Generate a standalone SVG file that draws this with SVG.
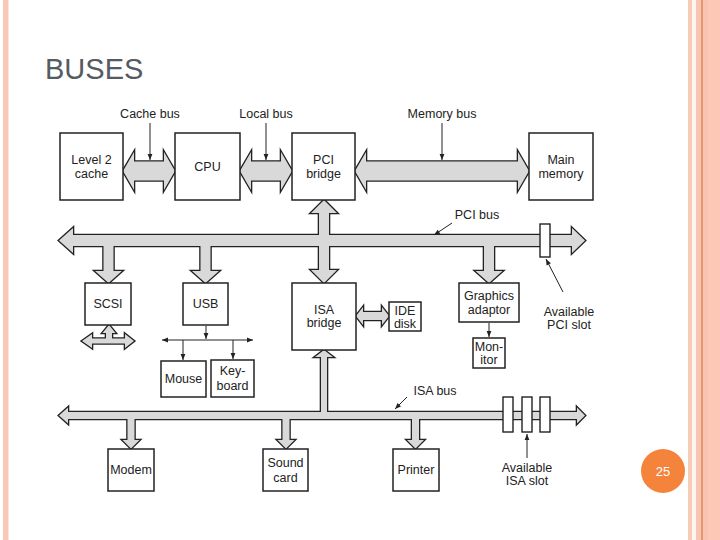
<svg xmlns="http://www.w3.org/2000/svg" xmlns:xlink="http://www.w3.org/1999/xlink" width="720" height="540" viewBox="0 0 720 540">
<style>
.box{fill:#fff;stroke:#222;stroke-width:1.5}
.lbl{font-family:"Liberation Sans",Arial,sans-serif;font-size:12.5px;fill:#222;text-anchor:middle}
.bo{fill:#222;stroke:#222;stroke-width:2.6;stroke-linejoin:miter}
.bf{fill:#d9d9d9;stroke:none}
.ptr{stroke:#222;stroke-width:1;fill:none}
.slot{fill:#fff;stroke:#222;stroke-width:1.4}
</style>
<defs>
<marker id="ah" viewBox="0 0 10 10" refX="10" refY="5" markerWidth="7" markerHeight="6" orient="auto-start-reverse" markerUnits="userSpaceOnUse"><path d="M0,1 L10,5 L0,9 Z" fill="#222"/></marker>
<path id="cacheBus" d="M123,171 L134,152 L134,161.5 L164,161.5 L164,152 L175,171 L164,190 L164,180.5 L134,180.5 L134,190 Z"/>
<path id="localBus" d="M240,171 L251,152 L251,161.5 L281,161.5 L281,152 L292,171 L281,190 L281,180.5 L251,180.5 L251,190 Z"/>
<path id="memBus" d="M355,171 L366,152 L366,161.5 L518,161.5 L518,152 L529,171 L518,190 L518,180.5 L366,180.5 L366,190 Z"/>
<path id="pciBus" d="M59,240.5 L73,228 L73,235 L572,235 L572,228 L585,240.5 L572,253 L572,246 L73,246 L73,253 Z"/>
<path id="pciScsi" d="M103.5,240 L113.5,240 L113.5,271 L122,271 L108.5,283 L95,271 L103.5,271 Z"/>
<path id="pciUsb" d="M200.5,240 L210.5,240 L210.5,271 L219,271 L205.5,283 L192,271 L200.5,271 Z"/>
<path id="pciGfx" d="M484,240 L494,240 L494,271 L502.5,271 L489,283 L475.5,271 L484,271 Z"/>
<path id="pciIsa" d="M324,200 L337,213 L329,213 L329,270 L337,270 L324,283 L311,270 L319,270 L319,213 L311,213 Z"/>
<path id="scsiUp" d="M109,325 L115.5,333 L112,333 L112,340 L106,340 L106,333 L102.5,333 Z"/>
<path id="scsiH" d="M82,341 L92,334 L92,338.5 L125,338.5 L125,334 L134,341 L125,348 L125,343.5 L92,343.5 L92,348 Z"/>
<path id="ideBus" d="M356,316 L363,307 L363,312 L382,312 L382,307 L389,316 L382,325 L382,320 L363,320 L363,325 Z"/>
<path id="isaBus" d="M59,415.5 L68,407.5 L68,412 L577,412 L577,407.5 L585,415.5 L577,423.5 L577,419 L68,419 L68,423.5 Z"/>
<path id="isaUp" d="M324,350 L333,357 L327,357 L327,416 L321,416 L321,357 L315,357 Z"/>
<path id="isaModem" d="M127.5,415 L134.5,415 L134.5,440 L139.5,440 L131,448.5 L122.5,440 L127.5,440 Z"/>
<path id="isaSound" d="M282.5,415 L289.5,415 L289.5,440 L294.5,440 L286,448.5 L277.5,440 L282.5,440 Z"/>
<path id="isaPrinter" d="M412,415 L419,415 L419,440 L424,440 L415.5,448.5 L407,440 L412,440 Z"/>
</defs>

<rect x="0" y="0" width="720" height="540" fill="#fff"/>
<rect x="3" y="0" width="5.5" height="540" fill="#f8c9b7"/>
<rect x="688" y="0" width="4" height="540" fill="#f9cbb9"/>
<rect x="692" y="0" width="4" height="540" fill="#fdf6ef"/>
<rect x="696" y="0" width="5" height="540" fill="#f9c5b3"/>
<rect x="701" y="0" width="2" height="540" fill="#e8956e"/>
<rect x="703" y="0" width="5" height="540" fill="#f9c5b3"/>
<rect x="708" y="0" width="12" height="540" fill="#fdc9b5"/>

<text x="45" y="79" font-family="'Liberation Sans',Arial,sans-serif" font-size="29" fill="#555b61">BUSES</text>

<g id="connectors">
  <g class="bo">
    <use xlink:href="#cacheBus"/><use xlink:href="#localBus"/><use xlink:href="#memBus"/>
    <use xlink:href="#pciBus"/><use xlink:href="#pciScsi"/><use xlink:href="#pciUsb"/><use xlink:href="#pciGfx"/><use xlink:href="#pciIsa"/>
    <use xlink:href="#scsiUp"/><use xlink:href="#scsiH"/><use xlink:href="#ideBus"/>
    <use xlink:href="#isaBus"/><use xlink:href="#isaUp"/><use xlink:href="#isaModem"/><use xlink:href="#isaSound"/><use xlink:href="#isaPrinter"/>
  </g>
  <g class="bf">
    <use xlink:href="#cacheBus"/><use xlink:href="#localBus"/><use xlink:href="#memBus"/>
    <use xlink:href="#pciBus"/><use xlink:href="#pciScsi"/><use xlink:href="#pciUsb"/><use xlink:href="#pciGfx"/><use xlink:href="#pciIsa"/>
    <use xlink:href="#scsiUp"/><use xlink:href="#scsiH"/><use xlink:href="#ideBus"/>
    <use xlink:href="#isaBus"/><use xlink:href="#isaUp"/><use xlink:href="#isaModem"/><use xlink:href="#isaSound"/><use xlink:href="#isaPrinter"/>
  </g>
  <rect class="slot" x="540" y="224" width="10" height="33"/>
  <rect class="slot" x="503" y="397" width="10" height="35"/>
  <rect class="slot" x="522" y="397" width="10" height="35"/>
  <rect class="slot" x="540" y="397" width="10" height="35"/>
  <line class="ptr" x1="150" y1="123" x2="150" y2="160" marker-end="url(#ah)"/>
  <line class="ptr" x1="266" y1="123" x2="266" y2="160" marker-end="url(#ah)"/>
  <line class="ptr" x1="442" y1="123" x2="442" y2="160" marker-end="url(#ah)"/>
  <line class="ptr" x1="452" y1="223" x2="434" y2="235" marker-end="url(#ah)"/>
  <line class="ptr" x1="563" y1="292" x2="546" y2="259" marker-end="url(#ah)"/>
  <line class="ptr" x1="407" y1="397" x2="395" y2="409" marker-end="url(#ah)"/>
  <line class="ptr" x1="527" y1="458" x2="527" y2="434" marker-end="url(#ah)"/>
  <line class="ptr" x1="206" y1="326" x2="206" y2="339" marker-end="url(#ah)"/>
  <line class="ptr" x1="162" y1="340" x2="253" y2="340" marker-start="url(#ah)" marker-end="url(#ah)"/>
  <line class="ptr" x1="183" y1="340" x2="183" y2="360" stroke="#777" marker-end="url(#ah)"/>
  <line class="ptr" x1="233" y1="340" x2="233" y2="359" marker-end="url(#ah)"/>
  <line class="ptr" x1="489" y1="323" x2="489" y2="337" marker-end="url(#ah)"/>
</g>

<g id="labels">
  <text class="lbl" x="150" y="118">Cache bus</text>
  <text class="lbl" x="266" y="118">Local bus</text>
  <text class="lbl" x="442" y="118">Memory bus</text>
  <text class="lbl" x="477" y="219">PCI bus</text>
  <text class="lbl" x="569" y="316">Available</text>
  <text class="lbl" x="569" y="329">PCI slot</text>
  <text class="lbl" x="435" y="395">ISA bus</text>
  <text class="lbl" x="527" y="472">Available</text>
  <text class="lbl" x="527" y="485">ISA slot</text>
</g>

<g id="level2cache"><rect class="box" x="60" y="133" width="63" height="67"/><text class="lbl" x="91.5" y="164">Level 2</text><text class="lbl" x="91.5" y="178">cache</text></g>
<g id="cpu"><rect class="box" x="175" y="133" width="65" height="67"/><text class="lbl" x="207.5" y="171">CPU</text></g>
<g id="pcibridge"><rect class="box" x="292" y="133" width="63" height="67"/><text class="lbl" x="323.5" y="164">PCI</text><text class="lbl" x="323.5" y="178">bridge</text></g>
<g id="mainmemory"><rect class="box" x="529" y="133" width="64" height="67"/><text class="lbl" x="561" y="164">Main</text><text class="lbl" x="561" y="178">memory</text></g>
<g id="scsi"><rect class="box" x="85" y="283" width="46" height="42"/><text class="lbl" x="108" y="308">SCSI</text></g>
<g id="usb"><rect class="box" x="183" y="283" width="45" height="42"/><text class="lbl" x="205.5" y="308">USB</text></g>
<g id="isabridge"><rect class="box" x="292" y="283" width="64" height="67"/><text class="lbl" x="324" y="314">ISA</text><text class="lbl" x="324" y="327">bridge</text></g>
<g id="idedisk"><rect class="box" x="389" y="302" width="32" height="29"/><text class="lbl" x="405" y="315">IDE</text><text class="lbl" x="405" y="328">disk</text></g>
<g id="graphics"><rect class="box" x="459" y="283" width="60" height="39"/><text class="lbl" x="489" y="300">Graphics</text><text class="lbl" x="489" y="314">adaptor</text></g>
<g id="monitor"><rect class="box" x="473" y="338" width="32" height="30"/><text class="lbl" x="489" y="351">Mon-</text><text class="lbl" x="489" y="364">itor</text></g>
<g id="mouse"><rect class="box" x="161" y="361" width="45" height="36"/><text class="lbl" x="183.5" y="383">Mouse</text></g>
<g id="keyboard"><rect class="box" x="211" y="360" width="43" height="37"/><text class="lbl" x="232.5" y="375">Key-</text><text class="lbl" x="232.5" y="390">board</text></g>
<g id="modem"><rect class="box" x="108" y="449" width="46" height="42"/><text class="lbl" x="131" y="474">Modem</text></g>
<g id="soundcard"><rect class="box" x="263" y="449" width="45" height="42"/><text class="lbl" x="285.5" y="467">Sound</text><text class="lbl" x="285.5" y="482">card</text></g>
<g id="printer"><rect class="box" x="393" y="449" width="46" height="42"/><text class="lbl" x="416" y="474">Printer</text></g>

<g id="pagenum"><circle cx="663" cy="471" r="22" fill="#f4843c"/><text x="663" y="476" font-family="'Liberation Sans',Arial,sans-serif" font-size="13" fill="#fff" text-anchor="middle">25</text></g>
</svg>
